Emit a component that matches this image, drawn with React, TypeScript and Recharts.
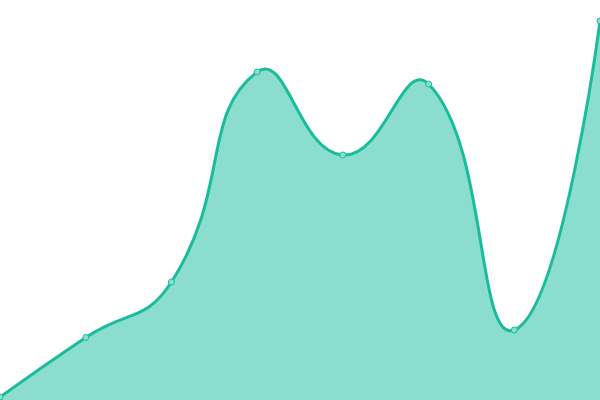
import React from "react";
import { AreaChart, Area, XAxis, YAxis } from "recharts";

const categories = ["A", "B", "C", "D", "E", "F", "G", "H"];
const values = [3, 62.5, 118, 328, 245, 316, 70, 379];

const data = categories.map((c, i) => ({ name: c, value: values[i] }));

function makeSmooth(smooth: number) {
  return function (context: any) {
    let xs: number[] = [];
    let ys: number[] = [];
    let line = NaN;
    return {
      areaStart() {
        line = 0;
      },
      areaEnd() {
        line = NaN;
      },
      lineStart() {
        xs = [];
        ys = [];
      },
      lineEnd() {
        const n = xs.length;
        if (n) {
          if (line) context.lineTo(xs[0], ys[0]);
          else context.moveTo(xs[0], ys[0]);
          const cpPrev: number[][] = [];
          const cpNext: number[][] = [];
          for (let i = 0; i < n; i++) {
            if (i === 0 || i === n - 1) {
              cpPrev.push([xs[i], ys[i]]);
              cpNext.push([xs[i], ys[i]]);
              continue;
            }
            const vx = xs[i + 1] - xs[i - 1];
            const vy = ys[i + 1] - ys[i - 1];
            const d0 = Math.hypot(xs[i] - xs[i - 1], ys[i] - ys[i - 1]);
            const d1 = Math.hypot(xs[i + 1] - xs[i], ys[i + 1] - ys[i]);
            const s = d0 + d1 || 1;
            const r1 = d1 / s;
            const r0 = d0 / s;
            cpPrev.push([xs[i] - vx * smooth * r0, ys[i] - vy * smooth * r0]);
            cpNext.push([xs[i] + vx * smooth * r1, ys[i] + vy * smooth * r1]);
          }
          for (let i = 1; i < n; i++) {
            context.bezierCurveTo(
              cpNext[i - 1][0],
              cpNext[i - 1][1],
              cpPrev[i][0],
              cpPrev[i][1],
              xs[i],
              ys[i]
            );
          }
        }
        if (line || (line !== 0 && n === 1)) context.closePath();
        line = 1 - line;
      },
      point(x: number, y: number) {
        xs.push(+x);
        ys.push(+y);
      },
    };
  };
}

const smoothCurve = makeSmooth(0.5);

export default function App() {
  return (
    <div style={{ position: "fixed", left: 0, top: 0, width: 600, height: 400, background: "#fff" }}>
      <AreaChart width={600} height={400} data={data} margin={{ top: 0, right: 0, bottom: 0, left: 0 }}>
        <XAxis dataKey="name" hide padding={{ left: 0, right: 0 }} />
        <YAxis hide domain={[0, 400]} />
        <Area
          type={smoothCurve as any}
          dataKey="value"
          stroke="#1abc9c"
          strokeWidth={3}
          fill="#17bd9d"
          fillOpacity={0.5}
          dot={{ r: 3, fill: "#8adfd0", stroke: "#1abc9c", strokeWidth: 1, fillOpacity: 1 }}
          activeDot={false}
          isAnimationActive={false}
        />
      </AreaChart>
    </div>
  );
}
